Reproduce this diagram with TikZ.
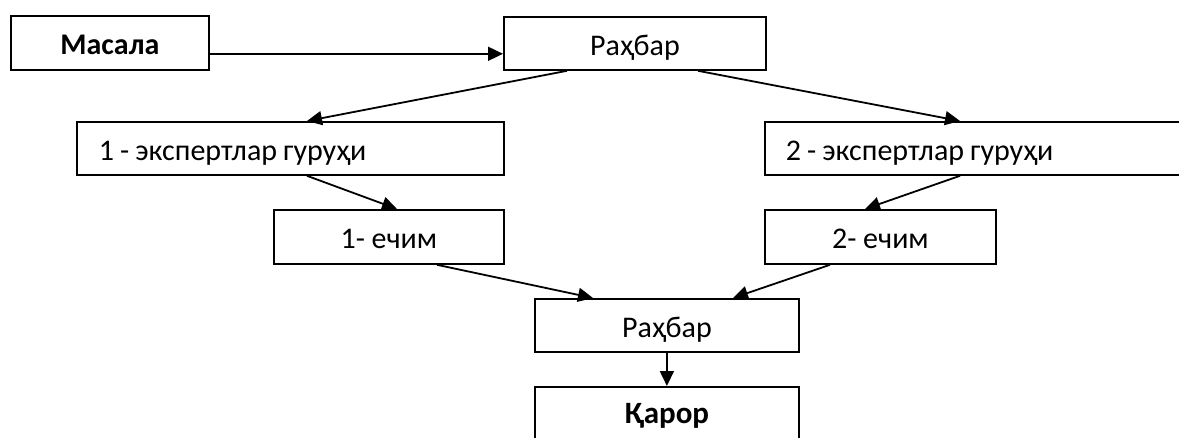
\documentclass[tikz,border=0pt]{standalone}
\usepackage{fontspec}
\setmainfont{Carlito}
\usetikzlibrary{arrows.meta}
\newcommand{\grpspace}{\spaceskip=6pt plus 1pt minus 1pt\relax}
\begin{document}
\begin{tikzpicture}[x=1pt,y=-1pt,
  box/.style={draw,line width=1.8pt,rectangle,anchor=north west,inner sep=0pt,text height=28pt,text depth=4pt,font=\fontsize{30}{34}\selectfont},
  groupbox/.style={box,minimum height=53pt,align=left},
  conn/.style={line width=1.8pt,-{Triangle[length=15pt,width=14pt]}}]
\useasboundingbox (0,0) rectangle (1179,437);
\clip (0,0) rectangle (1179,437);
\node[box,minimum width=198pt,minimum height=54pt,font=\fontsize{30}{34}\selectfont\bfseries] (masala) at (10,15) {Масала};
\node[box,minimum width=262pt,minimum height=53pt] (rah1) at (503,16) {Раҳбар};
\node[groupbox,minimum width=427pt,text width=383pt,inner xsep=22pt] (g1) at (76,121) {\grpspace 1 - экспертлар гуруҳи};
\node[groupbox,minimum width=430pt,text width=409pt,inner xsep=21pt] (g2) at (764,121) {\grpspace 2 - экспертлар гуруҳи};
\node[box,minimum width=230pt,minimum height=54pt] (e1) at (273,209) {1- ечим};
\node[box,minimum width=231pt,minimum height=54pt] (e2) at (764,209) {2- ечим};
\node[box,minimum width=264pt,minimum height=53pt] (rah2) at (534,298) {Раҳбар};
\node[box,minimum width=264pt,minimum height=60pt,text depth=14pt,font=\fontsize{31}{35}\selectfont\bfseries] (qaror) at (534,386) {Қарор};
\draw[conn] ([yshift=17pt]masala.south east) -- ([yshift=17pt]rah1.south west);
\draw[conn] ([xshift=64pt]rah1.south west) -- ([xshift=231pt]g1.north west);
\draw[conn] ([xshift=195pt]rah1.south west) -- ([xshift=196pt]g2.north west);
\draw[conn] ([xshift=231pt]g1.south west) -- ([xshift=124pt]e1.north west);
\draw[conn] ([xshift=196pt]g2.south west) -- ([xshift=101pt]e2.north west);
\draw[conn] ([xshift=164pt]e1.south west) -- ([xshift=59pt]rah2.north west);
\draw[conn] ([xshift=66pt]e2.south west) -- ([xshift=199pt]rah2.north west);
\draw[conn] (rah2.south) -- (qaror.north);
\end{tikzpicture}
\end{document}
